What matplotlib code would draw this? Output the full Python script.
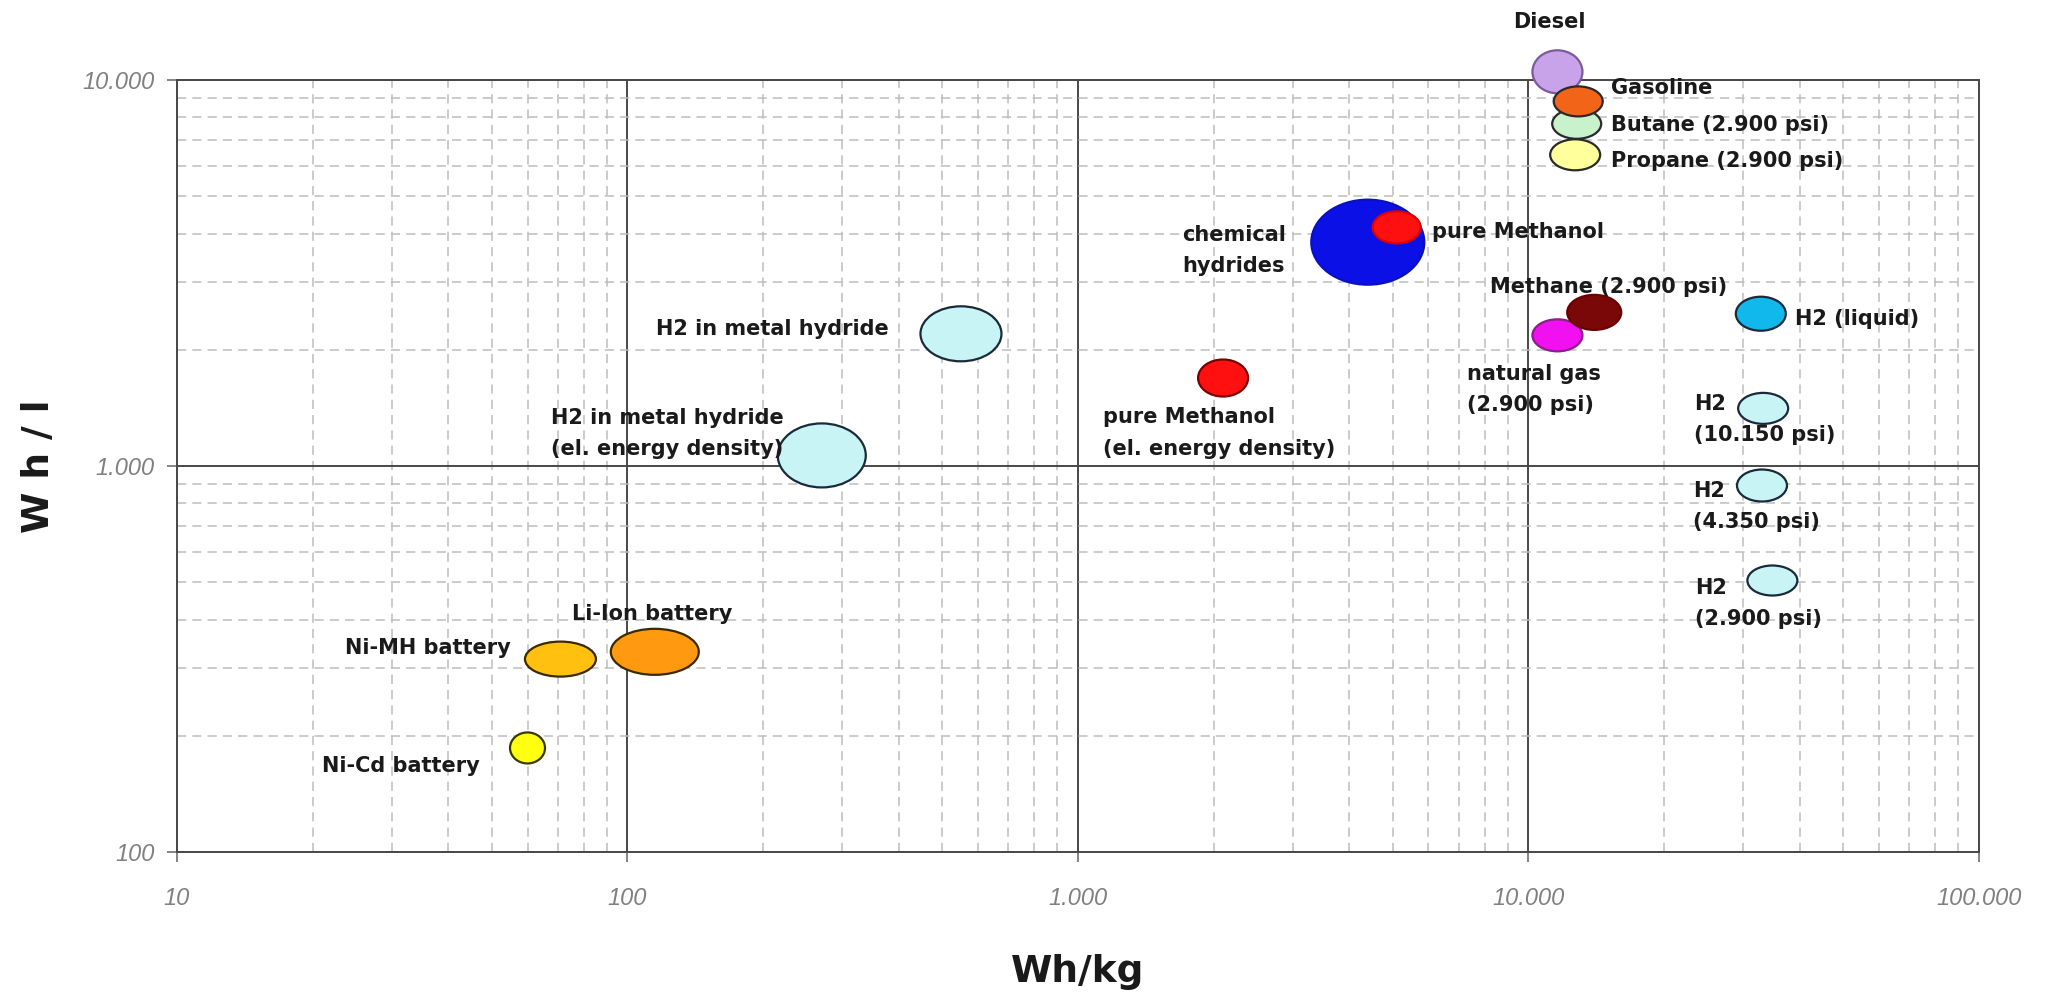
import matplotlib
matplotlib.use('Agg')
import matplotlib.pyplot as plt
from matplotlib.collections import EllipseCollection
from matplotlib.ticker import LogLocator, FuncFormatter, NullFormatter
import numpy as np

# energy carriers: gravimetric (Wh/kg) and volumetric (Wh/l) energy density
names = ['Diesel', 'Butane (2.900 psi)', 'Propane (2.900 psi)', 'Gasoline',
         'chemical\nhydrides', 'pure Methanol', 'natural gas\n(2.900 psi)',
         'Methane (2.900 psi)', 'H2 (liquid)', 'H2\n(10.150 psi)', 'H2\n(4.350 psi)',
         'H2\n(2.900 psi)', 'H2 in metal hydride',
         'H2 in metal hydride\n(el. energy density)',
         'pure Methanol\n(el. energy density)',
         'Li-Ion battery', 'Ni-MH battery', 'Ni-Cd battery']
wh_kg = [11600, 12800, 12700, 12900, 4400, 5100, 11600, 14000, 32800, 33200,
         33000, 34800, 550, 270, 2100, 115, 71, 60]
wh_l = [10500, 7700, 6400, 8800, 3800, 4150, 2180, 2500, 2480, 1410, 890,
        505, 2200, 1065, 1690, 330, 316, 186]
fill_colors = ['#c9a3ea', '#c8f2cc', '#ffff9c', '#f26418', '#0a10e6', '#ff1010',
               '#f010f0', '#7a0808', '#10b8ec', '#c8f4f6', '#c8f4f6', '#c8f4f6',
               '#c8f4f6', '#c8f4f6', '#ff1010', '#ff9a10', '#ffc010', '#ffff10']

# bubble size in pixels (width, height) and outline
bub_w = [50, 49, 50, 49, 113, 48, 50, 54, 50, 50, 50, 50, 81, 88, 50, 88, 71, 35]
bub_h = [43, 30, 31, 30, 85, 32, 32, 35, 34, 31, 32, 30, 55, 64, 37, 46, 35, 31]
edge_colors = ['#7c5a9c', '#2a2a2a', '#2a2a2a', '#2a2a2a', '#0a10c0', '#e00000',
               '#8a208a', '#6a0000', '#1a2a3a', '#1a2a3a', '#1a2a3a', '#1a2a3a',
               '#1a2a3a', '#1a2a3a', '#7a0000', '#3a2a00', '#3a2a00', '#3a3a00']

# label placement: offset from bubble centre in pixels (up is positive)
lab_dx = [-8, 34, 36, 33, -82, 35, -90, -104, 34, -69, -69, -77, -72, -38, -120, -83, -50, -48]
lab_dy = [50, -1, -6, 13, -8, -5, -54, 25, -5, -11, -21, -23, 5, 22, -55, 38, 11, -18]
lab_ha = ['center', 'left', 'left', 'left', 'right', 'left', 'left', 'left', 'left',
          'left', 'left', 'left', 'right', 'right', 'left', 'left', 'right', 'right']

fig = plt.figure(figsize=(20.53, 9.96), dpi=100)
ax = fig.add_axes([0.0862, 0.1446, 0.8777, 0.7751])
ax.set_xscale('log')
ax.set_yscale('log')
ax.set_xlim(10, 100000)
ax.set_ylim(100, 10000)

ax.xaxis.set_minor_locator(LogLocator(base=10, subs=range(2, 10)))
ax.yaxis.set_minor_locator(LogLocator(base=10, subs=range(2, 10)))
ax.xaxis.set_minor_formatter(NullFormatter())
ax.yaxis.set_minor_formatter(NullFormatter())
dot_fmt = FuncFormatter(lambda v, p: f'{v:,.0f}'.replace(',', '.'))
ax.xaxis.set_major_formatter(dot_fmt)
ax.yaxis.set_major_formatter(dot_fmt)

ax.grid(which='major', color='#484848', lw=1.4, ls='-')
ax.grid(which='minor', color='#bdbdbd', lw=1.1, ls=(0, (6, 4)))
ax.set_axisbelow(True)
for s in ax.spines.values():
    s.set_color('#484848')
    s.set_linewidth(1.4)

ax.tick_params(which='major', length=7, width=1.2, color='#707070',
               labelcolor='#808080')
ax.tick_params(axis='x', which='major', pad=18)
ax.tick_params(axis='y', which='major', pad=9)
ax.tick_params(which='minor', length=0)
for lbl in ax.get_xticklabels() + ax.get_yticklabels():
    lbl.set_fontfamily(['Liberation Sans', 'DejaVu Sans'])
    lbl.set_fontstyle('italic')
    lbl.set_fontsize(17)

bubbles = EllipseCollection(bub_w, bub_h, np.zeros(len(bub_w)), units='dots',
                            offsets=np.column_stack([wh_kg, wh_l]),
                            offset_transform=ax.transData,
                            facecolors=fill_colors, edgecolors=edge_colors,
                            linewidths=1.6, zorder=3)
bubbles.set_clip_on(False)
ax.add_collection(bubbles)

for i, name in enumerate(names):
    ax.annotate(name, xy=(wh_kg[i], wh_l[i]), xytext=(lab_dx[i], lab_dy[i]),
                textcoords='offset pixels', ha=lab_ha[i], va='center',
                multialignment='left', linespacing=1.7,
                fontsize=15, fontweight='bold', family='DejaVu Sans',
                color='#1a1a1a', zorder=4, annotation_clip=False)

ax.set_xlabel('Wh/kg', fontsize=27, fontweight='bold', color='#1a1a1a', labelpad=32)
ax.set_ylabel('W h / l', fontsize=27, fontweight='bold', color='#1a1a1a',
              family=['Liberation Sans Narrow', 'DejaVu Sans'], labelpad=18)

fig.savefig('out.png', dpi=100, facecolor='white')
